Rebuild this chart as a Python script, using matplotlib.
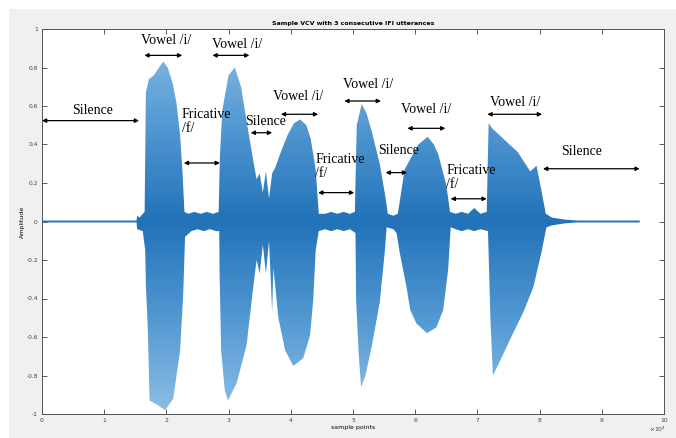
import numpy as np
import matplotlib
matplotlib.use("Agg")
import matplotlib.pyplot as plt
from matplotlib.colors import LinearSegmentedColormap
from matplotlib.patches import Rectangle

# waveform envelope (sample points, amplitude)
upper_x = [0, 15200, 15300, 15700, 16200, 16500, 16700, 17200, 18000, 18800, 19500,
           20200, 21000, 21600, 22200, 22600, 22900, 23500, 24500, 25500, 26500,
           27500, 28400, 28600, 29000, 30000, 31000, 32000, 33000, 34000, 34500,
           35000, 35500, 36000, 36500, 37000, 37500, 38500, 39500, 40500, 41500,
           42500, 43200, 44000, 44500, 45500, 46500, 47500, 48500, 49500, 50300,
           50600, 51400, 52200, 53000, 54300, 55200, 55600, 56500, 57200, 57500,
           58300, 59300, 60500, 62000, 63000, 63700, 65000, 65600, 66500, 67500,
           68500, 69500, 70500, 71500, 71800, 72500, 74500, 76500, 78500, 79500,
           80300, 81000, 82000, 84000, 86000, 96100]
upper_y = [0.005, 0.005, 0.03, 0.02, 0.04, 0.05, 0.67, 0.74, 0.76, 0.80, 0.83,
           0.80, 0.72, 0.62, 0.45, 0.25, 0.05, 0.04, 0.05, 0.04, 0.05,
           0.04, 0.05, 0.34, 0.58, 0.76, 0.80, 0.70, 0.50, 0.31, 0.22,
           0.25, 0.15, 0.26, 0.12, 0.25, 0.28, 0.37, 0.45, 0.51, 0.53,
           0.50, 0.43, 0.27, 0.04, 0.04, 0.05, 0.04, 0.05, 0.04, 0.05,
           0.50, 0.61, 0.56, 0.47, 0.30, 0.13, 0.04, 0.03, 0.04, 0.10,
           0.27, 0.33, 0.40, 0.44, 0.40, 0.35, 0.19, 0.05, 0.04, 0.05,
           0.04, 0.07, 0.04, 0.05, 0.51, 0.48, 0.42, 0.36, 0.26, 0.29,
           0.16, 0.04, 0.02, 0.01, 0.005, 0.005]

lower_x = [0, 15200, 15300, 16200, 16600, 16700, 17000, 17300, 18400, 19800,
           21100, 22200, 22700, 23000, 24000, 25000, 26000, 27000, 28000, 28500,
           28550, 28800, 29400, 29900, 31300, 32900, 34000, 34500, 35000, 35500,
           36000, 36500, 37000, 37200, 38000, 39100, 40400, 42000, 43100, 43600,
           44000, 44500, 45500, 46500, 47500, 48500, 49500, 50400, 50500, 50900,
           51300, 52000, 53000, 54300, 55100, 55400, 56500, 57000, 57500, 58600,
           59200, 60200, 61900, 63400, 64500, 65300, 65700, 66500, 67500, 68500,
           69500, 70500, 71700, 71800, 72100, 72500, 73700, 75300, 77400, 79000,
           80300, 81100, 82000, 84000, 86000, 96100]
lower_y = [-0.005, -0.005, -0.04, -0.05, -0.15, -0.33, -0.55, -0.93, -0.95, -0.98,
           -0.92, -0.67, -0.38, -0.08, -0.05, -0.04, -0.05, -0.04, -0.05, -0.05,
           -0.27, -0.67, -0.88, -0.93, -0.84, -0.64, -0.33, -0.20, -0.27, -0.12,
           -0.27, -0.10, -0.47, -0.24, -0.50, -0.67, -0.75, -0.71, -0.59, -0.41,
           -0.15, -0.05, -0.04, -0.05, -0.04, -0.05, -0.04, -0.06, -0.41, -0.68,
           -0.86, -0.80, -0.65, -0.42, -0.16, -0.03, -0.04, -0.06, -0.16, -0.34,
           -0.46, -0.53, -0.58, -0.55, -0.46, -0.25, -0.03, -0.04, -0.05, -0.04,
           -0.05, -0.04, -0.05, -0.16, -0.51, -0.80, -0.72, -0.61, -0.47, -0.34,
           -0.16, -0.03, -0.02, -0.01, -0.005, -0.005]

# annotations: label, text x, text y, arrow start, arrow end, arrow y
labels = ["Silence", "Vowel /i/", "Vowel /i/", "Fricative\n/f/", "Silence",
          "Vowel /i/", "Fricative\n/f/", "Vowel /i/", "Silence", "Vowel /i/",
          "Fricative\n/f/", "Vowel /i/", "Silence"]
text_x = [8100, 20000, 31350, 22450, 35900, 41150, 43900, 52400, 57300, 61700,
          65000, 76000, 86800]
text_y = [0.579, 0.938, 0.922, 0.517, 0.517, 0.647, 0.286, 0.714, 0.369, 0.583,
          0.230, 0.618, 0.366]
arrow_x0 = [0, 16450, 27400, 22800, 33550, 38400, 44400, 48600, 55250, 58750,
            65700, 71600, 80550]
arrow_x1 = [15600, 22550, 33350, 28600, 37000, 44400, 50200, 54500, 58700, 64850,
            71500, 80400, 96100]
arrow_y = [0.524, 0.863, 0.863, 0.304, 0.461, 0.557, 0.150, 0.626, 0.254, 0.484,
           0.118, 0.557, 0.274]

xtick_labels = ["0", "1", "2", "3", "4", "5", "6", "7", "8", "9", "10"]
ytick_labels = ["-1", "-0.8", "-0.6", "-0.4", "-0.2", "0", "0.2", "0.4", "0.6",
                "0.8", "1"]

fig = plt.figure(figsize=(6.76, 4.38), dpi=100)
fig.patches.append(Rectangle((9 / 676, 0), 1, 1 - 9 / 438, transform=fig.transFigure,
                             facecolor="#f0f0f0", edgecolor="none", zorder=-10))
ax = fig.add_axes([42 / 676, 1 - 414 / 438, 622 / 676, 385 / 438])
ax.set_facecolor("white")

# waveform as filled envelope, shaded darker near zero like a dense plot
poly = ax.fill(np.r_[upper_x, lower_x[::-1]], np.r_[upper_y, lower_y[::-1]],
               facecolor="none", edgecolor="none")[0]
cmap = LinearSegmentedColormap.from_list("wave", ["#8dbee4", "#5298d2", "#2272b8",
                                                   "#5298d2", "#8dbee4"])
grad = np.linspace(-1, 1, 400).reshape(-1, 1)
im = ax.imshow(grad, extent=[0, 100000, -1, 1], origin="lower", aspect="auto",
               cmap=cmap, interpolation="bilinear", zorder=2)
im.set_clip_path(poly)

for lab, tx, ty, a0, a1, ay in zip(labels, text_x, text_y, arrow_x0, arrow_x1, arrow_y):
    ax.annotate("", xy=(a1, ay), xytext=(a0, ay),
                arrowprops=dict(arrowstyle="<|-|>", color="black", lw=0.9,
                                mutation_scale=6, shrinkA=0, shrinkB=0), zorder=5)
    if "\n" in lab:
        ax.text(tx, ty, lab, ha="left", va="center", family="Liberation Serif",
                fontsize=10, linespacing=1.1, zorder=5)
    else:
        ax.text(tx, ty, lab, ha="center", va="center", family="Liberation Serif",
                fontsize=10, zorder=5)

ax.set_xlim(0, 100000)
ax.set_ylim(-1, 1)
ax.set_xticks(np.arange(0, 100001, 10000))
ax.set_xticklabels(xtick_labels)
ax.set_yticks(np.linspace(-1, 1, 11))
ax.set_yticklabels(ytick_labels)
ax.tick_params(direction="in", length=3.5, width=0.6, labelsize=4.3,
               colors="#404040", top=True, right=True, pad=3)
for s in ax.spines.values():
    s.set_color("#555555")
    s.set_linewidth(0.7)
ax.text(0.99, -0.028, r"$\times10^4$", transform=ax.transAxes, ha="center",
        va="top", fontsize=4.3, color="#404040")

ax.set_title("Sample VCV with 3 consecutive IFI utterances", fontsize=4.5,
             fontweight="bold", pad=3)
ax.set_xlabel("sample points", fontsize=4.5, labelpad=1)
ax.set_ylabel("Amplitude", fontsize=4.5)
ax.yaxis.set_label_coords(-0.027, 0.5)

fig.savefig("out.png", dpi=100)
